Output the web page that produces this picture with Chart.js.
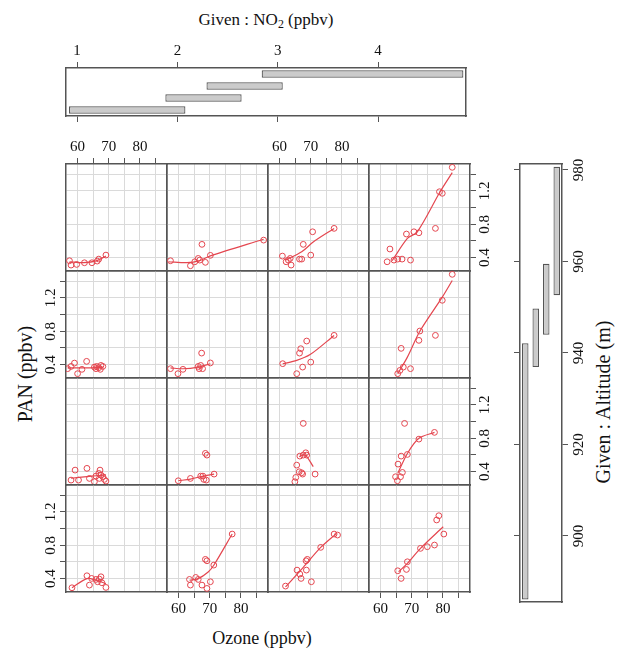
<html>
<head>
<style>
  body { margin: 0; background: #fff; width: 617px; height: 654px; position: relative; overflow: hidden;
         font-family: "Liberation Serif", serif; color: #111; }
  canvas { position: absolute; }
  .lbl { position: absolute; white-space: nowrap; line-height: 1; transform: translate(-50%, -50%); }
  .rot { transform: translate(-50%, -50%) rotate(-90deg); }
  sub { font-size: 70%; vertical-align: -0.25em; }
</style>
</head>
<body>

<div class="lbl" style="left:266px; top:21px; font-size:17px">Given : NO<sub>2</sub> (ppbv)</div>
<div class="lbl" style="left:262px; top:638px; font-size:18px">Ozone (ppbv)</div>
<div class="lbl rot" style="left:25px; top:374px; font-size:20px">PAN (ppbv)</div>
<div class="lbl rot" style="left:603px; top:402px; font-size:20px">Given : Altitude (m)</div>

<script src="https://cdn.jsdelivr.net/npm/chart.js"></script>
<script>
"use strict";

// tick values and labels
const ozoneTicks = [60, 65, 70, 75, 80, 85];
const ozoneLabels = [60, 70, 80];
const panTicks = [0.4, 0.6, 0.8, 1.0, 1.2, 1.4];
const panLabels = [0.4, 0.8, 1.2];
const no2Ticks = [1, 2, 3, 4];
const altTicks = [900, 920, 940, 960, 980];

// conditioning intervals (low to high)
const no2Intervals = [[0.92, 2.08], [1.88, 2.64], [2.29, 3.05], [2.84, 4.85]];
const altIntervals = [[886.1, 942.1], [936.9, 949.7], [944.0, 959.5], [952.6, 980.7]];

// panels: r = row from top (altitude interval 4..1), c = column (NO2 interval 1..4)
// points are [ozone, PAN], fit is the smooth line
const pts_r1c1 = [[57.4,0.362],[57.9,0.31],[59.7,0.318],[62.2,0.338],[64.6,0.338],[66.3,0.358],[66.8,0.382],[69.1,0.43]];
const fit_r1c1 = [[57.4,0.35],[62,0.34],[66,0.36],[69.1,0.42]];
const pts_r1c2 = [[57.4,0.362],[63.8,0.302],[65.2,0.35],[66.3,0.39],[66.8,0.37],[67.5,0.559],[68.6,0.343],[70.2,0.427],[87.3,0.61]];
const fit_r1c2 = [[56.8,0.35],[62.7,0.34],[66.5,0.36],[70.2,0.42],[87.3,0.62]];
const pts_r1c3 = [[60.9,0.418],[62.1,0.35],[62.8,0.37],[63.4,0.39],[63.7,0.31],[66.4,0.382],[67.1,0.382],[67.6,0.559],[70.0,0.43],[70.6,0.71],[77.5,0.751]];
const fit_r1c3 = [[62.0,0.37],[67.1,0.47],[70.9,0.59],[77.5,0.75]];
const pts_r1c4 = [[62.1,0.35],[63.0,0.503],[64.3,0.37],[65.5,0.382],[66.9,0.382],[68.3,0.683],[69.6,0.37],[70.7,0.71],[72.3,0.698],[77.6,0.751],[78.9,1.191],[79.8,1.172],[83.0,1.484]];
const fit_r1c4 = [[63.7,0.362],[68.6,0.63],[71.8,0.71],[79.1,1.19],[83.0,1.42]];

const pts_r2c1 = [[56.8,0.351],[57.9,0.378],[59.0,0.418],[60.0,0.291],[61.4,0.343],[62.9,0.439],[65.4,0.37],[66.1,0.378],[66.8,0.363],[67.5,0.39],[68.1,0.378],[67.3,0.343],[65.9,0.351]];
const fit_r2c1 = [[56.8,0.36],[60,0.36],[64,0.36],[68.1,0.37]];
const pts_r2c2 = [[57.4,0.351],[59.8,0.291],[61.4,0.343],[66.3,0.378],[66.6,0.351],[67.4,0.538],[67.7,0.351],[67.1,0.39],[70.2,0.42]];
const fit_r2c2 = [[57.4,0.36],[61.4,0.35],[66.3,0.37],[70.2,0.41]];
const pts_r2c3 = [[61.0,0.411],[65.5,0.291],[67.4,0.37],[66.4,0.538],[66.8,0.591],[68.7,0.683],[70.0,0.43],[77.5,0.751]];
const fit_r2c3 = [[61.0,0.41],[65.5,0.45],[69.8,0.52],[77.5,0.75]];
const pts_r2c4 = [[65.5,0.291],[66.2,0.33],[66.6,0.595],[67.3,0.37],[69.6,0.351],[72.3,0.691],[72.6,0.803],[77.6,0.751],[79.8,1.172],[83.0,1.484]];
const fit_r2c4 = [[65.5,0.29],[68.6,0.49],[72.6,0.80],[79.8,1.21],[83.0,1.41]];

const pts_r3c1 = [[57.9,0.298],[59.2,0.418],[60.3,0.298],[63.0,0.439],[63.8,0.318],[65.4,0.278],[65.9,0.346],[66.8,0.378],[67.2,0.418],[67.5,0.358],[68.1,0.338],[68.6,0.306],[69.1,0.286],[67.0,0.318]];
const fit_r3c1 = [[57.9,0.32],[63,0.34],[66,0.35],[69.1,0.36]];
const pts_r3c2 = [[59.9,0.29],[63.8,0.318],[67.1,0.346],[67.8,0.346],[68.6,0.619],[69.1,0.598],[68.9,0.298],[71.4,0.37],[68.1,0.306]];
const fit_r3c2 = [[59.9,0.29],[63.8,0.31],[67.1,0.34],[71.4,0.37]];
const pts_r3c3 = [[67.6,0.979],[64.9,0.278],[65.2,0.33],[65.5,0.478],[66.5,0.586],[67.6,0.598],[68.4,0.626],[68.7,0.598],[67.1,0.386],[66.3,0.398],[67.4,0.37],[71.4,0.37]];
const fit_r3c3 = [[66.3,0.58],[68.2,0.60],[70.8,0.46]];
const pts_r3c4 = [[67.7,0.979],[64.8,0.338],[65.4,0.29],[66.4,0.338],[67.0,0.39],[65.6,0.49],[66.6,0.586],[68.6,0.606],[72.3,0.79],[77.3,0.871]];
const fit_r3c4 = [[65.5,0.378],[68.6,0.618],[72.3,0.80],[77.3,0.871]];

const pts_r4c1 = [[58.2,0.29],[63.0,0.434],[63.8,0.322],[64.5,0.402],[66.4,0.362],[67.0,0.394],[67.5,0.422],[67.8,0.35],[69.1,0.294],[65.9,0.39]];
const fit_r4c1 = [[58.2,0.29],[63.0,0.40],[65.9,0.38],[69.1,0.34]];
const pts_r4c2 = [[63.5,0.39],[63.8,0.322],[65.5,0.414],[66.3,0.39],[67.5,0.322],[69.1,0.282],[70.2,0.362],[68.6,0.631],[69.1,0.614],[71.3,0.562],[77.2,0.935]];
const fit_r4c2 = [[63.5,0.38],[66.3,0.40],[69.5,0.48],[71.3,0.56],[77.2,0.935]];
const pts_r4c3 = [[61.9,0.31],[65.6,0.502],[66.5,0.454],[66.9,0.402],[68.5,0.614],[68.9,0.631],[68.6,0.502],[70.2,0.362],[73.2,0.775],[77.5,0.935],[78.6,0.923]];
const fit_r4c3 = [[61.9,0.30],[67.6,0.535],[73.2,0.775],[78.3,0.943]];
const pts_r4c4 = [[65.5,0.494],[66.6,0.402],[68.3,0.51],[68.6,0.602],[72.8,0.763],[75.0,0.783],[77.3,0.803],[78.0,1.104],[78.7,1.155],[80.3,0.935]];
const fit_r4c4 = [[65.8,0.482],[68.6,0.583],[72.8,0.763],[80.1,1.023]];

const panels = [
  [pts_r1c1, fit_r1c1, pts_r1c2, fit_r1c2, pts_r1c3, fit_r1c3, pts_r1c4, fit_r1c4],
  [pts_r2c1, fit_r2c1, pts_r2c2, fit_r2c2, pts_r2c3, fit_r2c3, pts_r2c4, fit_r2c4],
  [pts_r3c1, fit_r3c1, pts_r3c2, fit_r3c2, pts_r3c3, fit_r3c3, pts_r3c4, fit_r3c4],
  [pts_r4c1, fit_r4c1, pts_r4c2, fit_r4c2, pts_r4c3, fit_r4c3, pts_r4c4, fit_r4c4]
];

// layout
const M = 40;
const PANEL_LEFT = 66, PANEL_TOP = 164, PANEL_W = 101, PANEL_H = 107;
const OZ_MIN = 56.28, OZ_MAX = 88.7;
const PAN_MIN = 0.239, PAN_MAX = 1.524;

const FRAME = '#555';
const GRID = '#dadada';
const RED = '#e4464f';
const TICK_FONT = { family: '"Liberation Serif", serif', size: 15 };

Chart.defaults.animation = false;
Chart.defaults.plugins.legend.display = false;
Chart.defaults.plugins.tooltip.enabled = false;
Chart.defaults.responsive = false;
Chart.defaults.maintainAspectRatio = false;

function addCanvas(x, y, w, h) {
  const c = document.createElement('canvas');
  c.width = w; c.height = h;
  c.style.left = x + 'px'; c.style.top = y + 'px';
  document.body.appendChild(c);
  return c;
}

function fixSize(s) { if (s.isHorizontal()) s.height = M; else s.width = M; }

function axis(position, min, max, tickVals, labelVals, onArea, show, rotate, pad) {
  return {
    type: 'linear', position, min, max,
    afterBuildTicks: s => { s.ticks = tickVals.map(v => ({ value: v })); },
    afterFit: fixSize,
    grid: { display: true, drawOnChartArea: onArea, color: GRID, lineWidth: 1,
            drawTicks: show, tickLength: 6, tickColor: FRAME, tickWidth: 1 },
    border: { display: true, color: FRAME, width: 1.5 },
    ticks: { display: show, autoSkip: false, color: '#111', font: TICK_FONT, padding: pad,
             minRotation: rotate, maxRotation: rotate, crossAlign: rotate ? 'center' : 'near',
             callback: v => labelVals.includes(v) ? String(v) : '' }
  };
}

function frameOnly(type, position) {
  return { type, position, min: 0, max: 1, afterFit: fixSize,
           grid: { display: false }, ticks: { display: false },
           border: { display: true, color: FRAME, width: 1.5 } };
}

function panelChart(row, col) {
  const pts = panels[row][col * 2], fit = panels[row][col * 2 + 1];
  const left = PANEL_LEFT + col * PANEL_W, top = PANEL_TOP + row * PANEL_H;
  const cv = addCanvas(left - M, top - M, PANEL_W + 2 * M, PANEL_H + 2 * M);
  const showTop = row === 0 && col % 2 === 0;
  const showBottom = row === 3 && col % 2 === 1;
  const showLeft = col === 0 && row % 2 === 1;
  const showRight = col === 3 && row % 2 === 0;
  new Chart(cv, {
    type: 'scatter',
    data: {
      datasets: [
        { data: fit.map(p => ({ x: p[0], y: p[1] })), showLine: true, borderColor: RED,
          borderWidth: 1.2, pointRadius: 0, tension: 0.3, xAxisID: 'x', yAxisID: 'y' },
        { data: pts.map(p => ({ x: p[0], y: p[1] })), pointStyle: 'circle', pointRadius: 2.9,
          borderColor: RED, borderWidth: 1, backgroundColor: 'rgba(0,0,0,0)', xAxisID: 'x', yAxisID: 'y' }
      ]
    },
    options: {
      layout: { padding: 0 },
      scales: {
        x: axis('bottom', OZ_MIN, OZ_MAX, ozoneTicks, ozoneLabels, true, showBottom, 0, 2),
        x2: axis('top', OZ_MIN, OZ_MAX, ozoneTicks, ozoneLabels, false, showTop, 0, 2),
        y: axis('left', PAN_MIN, PAN_MAX, panTicks, panLabels, true, showLeft, 90, 0),
        y2: axis('right', PAN_MIN, PAN_MAX, panTicks, panLabels, false, showRight, 90, 0)
      }
    }
  });
}

for (let r = 0; r < 4; r++) for (let c = 0; c < 4; c++) panelChart(r, c);

// given: NO2 (top box)
const NO2_LEFT = 66, NO2_TOP = 68, NO2_W = 400, NO2_H = 48;
new Chart(addCanvas(NO2_LEFT - M, NO2_TOP - M, NO2_W + 2 * M, NO2_H + 2 * M), {
  type: 'bar',
  data: {
    labels: ['1', '2', '3', '4'],
    datasets: [{ data: no2Intervals, backgroundColor: '#cbcbcb', borderColor: FRAME, borderWidth: 1.2,
                 borderSkipped: false, barPercentage: 0.62, categoryPercentage: 1 }]
  },
  options: {
    indexAxis: 'y',
    scales: {
      x: axis('top', 0.89, 4.876, no2Ticks, no2Ticks, false, true, 0, 2),
      x2: axis('bottom', 0.89, 4.876, no2Ticks, [], false, true, 0, 2),
      y: Object.assign(frameOnly('category', 'left'), { reverse: true, min: undefined, max: undefined }),
      y2: frameOnly('linear', 'right')
    }
  }
});

// given: altitude (right box)
const ALT_LEFT = 520, ALT_TOP = 164, ALT_W = 42, ALT_H = 438;
new Chart(addCanvas(ALT_LEFT - M, ALT_TOP - M, ALT_W + 2 * M, ALT_H + 2 * M), {
  type: 'bar',
  data: {
    labels: ['1', '2', '3', '4'],
    datasets: [{ data: altIntervals, backgroundColor: '#cbcbcb', borderColor: FRAME, borderWidth: 1.2,
                 borderSkipped: false, barPercentage: 0.62, categoryPercentage: 1 }]
  },
  options: {
    scales: {
      x: Object.assign(frameOnly('category', 'bottom'), { min: undefined, max: undefined }),
      x2: frameOnly('linear', 'top'),
      y: axis('left', 885.55, 981.3, altTicks, [], false, true, 90, 0),
      y2: axis('right', 885.55, 981.3, altTicks, altTicks, false, true, 90, 0)
    }
  }
});
</script>
</body>
</html>
